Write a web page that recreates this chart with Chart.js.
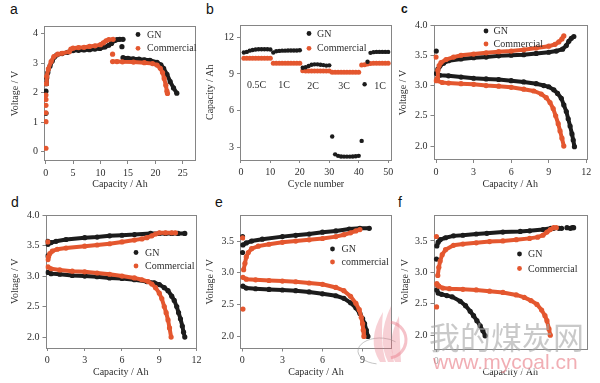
<!DOCTYPE html>
<html><head><meta charset="utf-8">
<script src="https://cdn.jsdelivr.net/npm/chart.js@4.4.0/dist/chart.umd.min.js"></script>
<style>
body{margin:0;background:#fff;}
#wrap{position:relative;width:600px;height:383px;overflow:hidden;background:#fff;}
#wrap canvas{position:absolute;}
.lab{position:absolute;font-family:"Liberation Sans",Arial,sans-serif;font-size:14px;line-height:14px;color:#111;}
</style></head><body><div id="wrap">
<div class="lab" style="left:10px;top:2px">a</div>
<div class="lab" style="left:206px;top:2px">b</div>
<div class="lab" style="left:401px;top:2px;font-weight:bold;font-size:12px">c</div>
<div class="lab" style="left:11px;top:195px">d</div>
<div class="lab" style="left:215px;top:195px">e</div>
<div class="lab" style="left:398px;top:195px">f</div>
</div>
<script>
// ---------- data ----------
// panel a
const a_GN_charge=[[0.1,2.3],[0.2,2.5],[0.4,2.68],[0.8,2.9],[1.2,3.07],[1.6,3.2],[2.0,3.27],[3,3.32],[4,3.36],[5,3.42],[6,3.43],[7,3.44],[8,3.45],[9,3.47],[9.9,3.49],[10.8,3.54],[11.5,3.6],[12,3.66],[12.6,3.76],[13,3.79],[13.5,3.8],[14.1,3.8]];
const a_GN_discharge=[[14.1,3.18],[15,3.16],[16,3.14],[17,3.13],[18,3.11],[19,3.09],[20.3,3.02],[21,2.94],[21.5,2.82],[22.1,2.62],[22.7,2.37],[23.3,2.16],[23.9,1.98]];
const a_GN_points=[[0.05,1.3],[0.05,2.05],[13.9,3.55]];
const a_Com_charge=[[0.1,2.3],[0.2,2.55],[0.5,2.8],[1.0,3.05],[1.5,3.22],[2.2,3.3],[3,3.33],[4.3,3.38],[4.6,3.47],[5,3.5],[6,3.52],[7,3.53],[8,3.56],[9,3.58],[10,3.62],[10.5,3.68],[11,3.75],[11.5,3.79],[12.3,3.8]];
const a_Com_discharge=[[12.2,3.05],[13,3.05],[14,3.04],[16,3.03],[18,3.01],[19.5,2.98],[20.3,2.93],[20.9,2.82],[21.3,2.68],[21.6,2.48],[21.9,2.25],[22.1,2.05],[22.2,1.97]];
const a_Com_points=[[0.05,0.12],[0.05,1.02],[0.05,1.32],[0.05,1.57],[0.05,1.77],[0.05,1.92],[12.2,3.3]];
// panel b
const b_cycles=[1,2,3,4,5,6,7,8,9,10,11,12,13,14,15,16,17,18,19,20,21,22,23,24,25,26,27,28,29,30,31,32,33,34,35,36,37,38,39,40,41,42,43,44,45,46,47,48,49,50];
const b_GN=[10.75,10.8,10.9,10.95,11.0,11.02,11.02,11.02,11.02,11.0,10.75,10.85,10.88,10.9,10.9,10.92,10.92,10.92,10.92,10.93,9.5,9.55,9.65,9.75,9.78,9.78,9.75,9.72,9.68,9.7,3.88,2.42,2.3,2.25,2.24,2.24,2.24,2.25,2.27,2.3,3.52,8.15,10.0,10.72,10.78,10.8,10.8,10.8,10.8,10.8];
const b_Com=[10.28,10.28,10.28,10.28,10.28,10.28,10.28,10.28,10.28,10.28,9.87,9.87,9.87,9.87,9.87,9.87,9.87,9.87,9.87,9.87,9.26,9.24,9.24,9.24,9.24,9.24,9.24,9.24,9.24,9.24,9.14,9.14,9.14,9.14,9.14,9.14,9.14,9.14,9.14,9.14,9.73,9.75,9.8,9.85,9.87,9.87,9.87,9.87,9.87,9.87];
const b_rates=['0.5C','1C','2C','3C','1C'];
// panel c
const c_GN_charge=[[0.05,3.2],[0.15,3.27],[0.3,3.32],[0.6,3.37],[1,3.41],[2,3.44],[3,3.46],[4,3.47],[5,3.49],[6,3.5],[7,3.51],[8,3.53],[9,3.55],[9.6,3.57],[10.1,3.6],[10.4,3.66],[10.6,3.73],[10.8,3.78],[11.0,3.81]];
const c_GN_discharge=[[0.05,3.2],[0.3,3.17],[1,3.16],[2,3.14],[3,3.12],[4,3.11],[5,3.1],[6,3.08],[7,3.06],[8,3.03],[8.6,3.0],[9,2.98],[9.4,2.93],[9.7,2.87],[10,2.79],[10.2,2.68],[10.4,2.57],[10.55,2.45],[10.7,2.33],[10.85,2.2],[10.95,2.1],[11.05,1.99]];
const c_GN_points=[[0.02,3.57]];
const c_Com_charge=[[0.1,3.12],[0.15,3.25],[0.25,3.33],[0.4,3.38],[0.8,3.43],[1.4,3.47],[2,3.5],[3,3.52],[4,3.54],[5,3.56],[6,3.57],[7,3.59],[8,3.62],[9,3.65],[9.5,3.68],[9.8,3.72],[10.05,3.77],[10.2,3.82]];
const c_Com_discharge=[[0.02,3.08],[0.5,3.05],[1,3.04],[2,3.03],[3,3.02],[4,3.0],[5,2.99],[6,2.97],[7,2.94],[7.8,2.91],[8.4,2.86],[8.8,2.8],[9.1,2.72],[9.35,2.62],[9.55,2.5],[9.75,2.37],[9.9,2.25],[10.05,2.13],[10.2,2.0]];
const c_Com_points=[[0.0,3.47]];
// panel d
const d_GN_charge=[[0.05,3.52],[0.3,3.55],[0.7,3.57],[1.5,3.6],[3,3.63],[4,3.64],[5,3.66],[6,3.67],[7,3.68],[8.3,3.7],[9,3.7],[9.5,3.7],[10,3.7],[10.5,3.7],[11.05,3.7]];
const d_GN_discharge=[[0.05,3.06],[0.3,3.04],[1,3.03],[2,3.01],[3,3.0],[4,2.99],[5,2.97],[6,2.96],[7,2.94],[8,2.91],[8.6,2.89],[9,2.86],[9.4,2.81],[9.7,2.76],[10,2.67],[10.2,2.6],[10.4,2.5],[10.55,2.4],[10.7,2.3],[10.85,2.18],[10.95,2.08],[11.05,2.0]];
const d_GN_points=[[0.03,3.33],[0.03,3.57]];
const d_Com_charge=[[0.05,3.27],[0.1,3.32],[0.2,3.37],[0.4,3.41],[0.8,3.44],[1.5,3.46],[3,3.49],[4,3.51],[5,3.53],[6,3.56],[7,3.59],[7.6,3.61],[8,3.63],[8.4,3.66],[8.7,3.69],[9,3.71],[9.5,3.71],[10,3.71],[10.3,3.71]];
const d_Com_discharge=[[0.05,3.15],[0.3,3.12],[1,3.1],[2,3.08],[3,3.07],[4,3.05],[5,3.03],[6,3.0],[7,2.97],[7.6,2.94],[8.1,2.91],[8.4,2.87],[8.7,2.81],[9.0,2.72],[9.2,2.63],[9.4,2.5],[9.55,2.4],[9.7,2.28],[9.82,2.15],[9.95,2.0]];
const d_Com_points=[[0.03,3.56]];
// panel e
const e_GN_charge=[[0.05,3.44],[0.3,3.47],[0.7,3.5],[1.5,3.53],[3,3.57],[4,3.59],[5,3.61],[6,3.64],[7,3.66],[8,3.69],[8.8,3.7],[9.5,3.7]];
const e_GN_discharge=[[0.05,2.79],[0.3,2.76],[1,2.75],[2,2.74],[3,2.73],[4,2.72],[5,2.7],[6,2.67],[7,2.64],[7.6,2.6],[8.1,2.53],[8.5,2.45],[8.8,2.36],[9.0,2.28],[9.15,2.2],[9.28,2.1],[9.4,2.0]];
const e_GN_points=[[0.02,3.57],[0.02,3.32]];
const e_Com_charge=[[0.1,3.05],[0.2,3.15],[0.3,3.25],[0.45,3.32],[0.7,3.38],[1.2,3.42],[2,3.45],[3,3.48],[4,3.5],[5,3.52],[6,3.54],[7,3.57],[7.6,3.6],[8.1,3.63],[8.5,3.66],[8.8,3.68]];
const e_Com_discharge=[[0.05,2.93],[0.3,2.9],[1,2.89],[2,2.88],[3,2.87],[4,2.86],[5,2.84],[6,2.82],[7,2.77],[7.6,2.72],[8.1,2.63],[8.5,2.52],[8.75,2.42],[8.9,2.3],[9.0,2.2],[9.05,2.1],[9.1,2.0]];
const e_Com_points=[[0.02,3.55],[0.05,2.43]];
// panel f
const f_GN_charge=[[0.05,3.42],[0.15,3.48],[0.3,3.52],[0.7,3.55],[1.3,3.58],[2,3.59],[3,3.61],[3.8,3.62],[5,3.64],[6.3,3.65],[7,3.66],[8,3.68],[8.6,3.7]];
const f_GN_points=[[0.02,3.21],[8.8,3.7],[9.2,3.7],[9.4,3.7],[9.8,3.71],[10.05,3.7],[10.2,3.71],[10.3,3.71]];
const f_GN_discharge=[[0.05,2.72],[0.15,2.67],[0.4,2.65],[0.8,2.63],[1.2,2.61],[1.8,2.54],[2.2,2.47],[2.55,2.38],[2.8,2.31],[3.05,2.23],[3.3,2.15],[3.5,2.07],[3.67,1.99]];
const f_Com_charge=[[0.12,2.95],[0.2,3.08],[0.3,3.18],[0.45,3.28],[0.7,3.36],[1.3,3.43],[2,3.45],[3,3.47],[4,3.49],[5,3.5],[6,3.52],[7,3.54],[7.6,3.56],[8.0,3.59],[8.3,3.64],[8.55,3.68],[8.8,3.71],[9.0,3.71]];
const f_Com_discharge=[[0.05,2.82],[0.2,2.78],[0.5,2.75],[1,2.74],[2,2.73],[3,2.72],[4,2.7],[5,2.68],[6,2.64],[6.6,2.6],[7.1,2.55],[7.55,2.49],[7.9,2.4],[8.15,2.31],[8.3,2.23],[8.45,2.1],[8.55,2.0]];
const f_Com_points=[[0.02,3.57],[0.03,2.45],[0.08,2.8]];

// ---------- drawing ----------
const GN_C='#1c1c1c', COM_C='#e4572f', AXIS_C='#858585', TXT_C='#2e2e2e';
const SERIF='"Liberation Serif","Times New Roman",serif';
const wrap=document.getElementById('wrap');

function ds(pairs,color,line,order){
  return {data:pairs.map(p=>({x:p[0],y:p[1]})),showLine:line,borderColor:color,backgroundColor:color,
    borderWidth:line?4:0,tension:0,pointRadius:2.6,pointBorderWidth:0,pointHoverRadius:0,pointBackgroundColor:color,order:order};
}
function curves(gnLines,gnPts,comLines,comPts){
  const out=[];
  comLines.forEach(l=>out.push(ds(l,COM_C,true,0)));
  out.push(ds(comPts,COM_C,false,0));
  gnLines.forEach(l=>out.push(ds(l,GN_C,true,1)));
  out.push(ds(gnPts,GN_C,false,1));
  return out;
}

function panel(o){
  const [bx,by,bw,bh]=o.box, [L,T,R,B]=o.plot;
  const cv=document.createElement('canvas');
  cv.width=bw; cv.height=bh;
  cv.style.left=bx+'px'; cv.style.top=by+'px'; cv.style.width=bw+'px'; cv.style.height=bh+'px';
  wrap.appendChild(cv);
  const deco={id:'deco',
    beforeDatasetsDraw(chart){
      const {ctx,chartArea:a}=chart;
      ctx.save(); ctx.strokeStyle=AXIS_C; ctx.lineWidth=1;
      ctx.strokeRect(Math.round(a.left)+0.5,Math.round(a.top)+0.5,Math.round(a.right-a.left)-1,Math.round(a.bottom-a.top)-1);
      ctx.restore();
    },
    afterDraw(chart){
      const ctx=chart.ctx; ctx.save();
      ctx.font='10px '+SERIF; ctx.textBaseline='middle'; ctx.fillStyle=TXT_C;
      (o.legend||[]).forEach(it=>{
        ctx.beginPath(); ctx.fillStyle=it.c; ctx.arc(it.dx-bx,it.dy-by,2.4,0,Math.PI*2); ctx.fill();
        ctx.fillStyle=TXT_C; ctx.textAlign='left'; ctx.fillText(it.text,it.tx-bx,it.dy-by+0.5);
      });
      (o.notes||[]).forEach(n=>{ctx.textAlign='center'; ctx.fillStyle=TXT_C; ctx.fillText(n.text,n.x-bx,n.y-by);});
      ctx.restore();
    }};
  const tickFont={family:SERIF,size:10};
  new Chart(cv,{type:'scatter',data:{datasets:o.datasets},
    options:{responsive:false,animation:false,devicePixelRatio:1,events:[],
      layout:{padding:{top:T-by,right:bx+bw-R,left:0,bottom:0}},
      plugins:{legend:{display:false},tooltip:{enabled:false}},
      scales:{
        x:{type:'linear',position:'bottom',min:o.x.min,max:o.x.max,
          afterBuildTicks:s=>{s.ticks=o.x.ticks.map(v=>({value:v}));},
          afterFit:s=>{s.height=by+bh-B; s.paddingLeft=0; s.paddingRight=0;},
          grid:{display:true,drawOnChartArea:false,drawTicks:true,tickLength:3,color:AXIS_C},
          border:{display:false},
          ticks:{font:tickFont,color:TXT_C,padding:3,maxRotation:0,autoSkip:false,callback:v=>v.toFixed(o.x.dec||0)},
          title:{display:true,text:o.x.title,font:{family:SERIF,size:10},color:TXT_C,padding:0}},
        y:{type:'linear',position:'left',min:o.y.min,max:o.y.max,
          afterBuildTicks:s=>{s.ticks=o.y.ticks.map(v=>({value:v}));},
          afterFit:s=>{s.width=L-bx; s.paddingTop=0; s.paddingBottom=0;},
          grid:{display:true,drawOnChartArea:false,drawTicks:true,tickLength:3,color:AXIS_C},
          border:{display:false},
          ticks:{font:tickFont,color:TXT_C,padding:3,autoSkip:false,callback:v=>v.toFixed(o.y.dec||0)},
          title:{display:true,text:o.y.title,font:{family:SERIF,size:10},color:TXT_C,padding:{top:o.y.tpad,bottom:0}}}
      }},
    plugins:[deco]});
}

panel({box:[0,0,205,190],plot:[44,26,196,161],
  x:{min:-0.3,max:27.4,ticks:[0,5,10,15,20,25],title:'Capacity / Ah'},
  y:{min:-0.31,max:4.25,ticks:[0,1,2,3,4],title:'Voltage / V',tpad:9},
  datasets:curves([a_GN_charge,a_GN_discharge],a_GN_points,[a_Com_charge,a_Com_discharge],a_Com_points),
  legend:[{dx:138,dy:34.5,tx:147,text:'GN',c:GN_C},{dx:138,dy:48.3,tx:147,text:'Commercial',c:COM_C}]});

panel({box:[198,0,204,190],plot:[240,24.5,392,160],
  x:{min:-0.3,max:51.3,ticks:[0,10,20,30,40,50],title:'Cycle number'},
  y:{min:1.96,max:13.04,ticks:[3,6,9,12],title:'Capacity / Ah',tpad:6},
  datasets:[
    {data:b_cycles.map((c,i)=>({x:c,y:b_Com[i]})),showLine:false,pointRadius:2.5,pointBorderWidth:0,backgroundColor:COM_C,pointBackgroundColor:COM_C,order:1},
    {data:b_cycles.map((c,i)=>({x:c,y:b_GN[i]})),showLine:false,pointRadius:2.2,pointBorderWidth:0,backgroundColor:GN_C,pointBackgroundColor:GN_C,order:0}],
  legend:[{dx:309,dy:33.5,tx:317,text:'GN',c:GN_C},{dx:309,dy:48.3,tx:317,text:'Commercial',c:COM_C}],
  notes:[{text:b_rates[0],x:256.5,y:85.5},{text:b_rates[1],x:284,y:85.5},{text:b_rates[2],x:313,y:86.5},{text:b_rates[3],x:344,y:86.5},{text:b_rates[4],x:380,y:86.5}]});

panel({box:[396,0,204,190],plot:[433.5,25,587,160],
  x:{min:-0.2,max:12.05,ticks:[0,3,6,9,12],title:'Capacity / Ah'},
  y:{min:1.77,max:4.0,ticks:[2,2.5,3,3.5,4],dec:1,title:'Voltage / V',tpad:1},
  datasets:curves([c_GN_charge,c_GN_discharge],c_GN_points,[c_Com_charge,c_Com_discharge],c_Com_points),
  legend:[{dx:486,dy:31,tx:493.5,text:'GN',c:GN_C},{dx:486,dy:44,tx:493.5,text:'Commercial',c:COM_C}]});

panel({box:[0,192,208,186],plot:[45.5,214.5,196,348],
  x:{min:-0.15,max:11.95,ticks:[0,3,6,9,12],title:'Capacity / Ah'},
  y:{min:1.82,max:4.01,ticks:[2,2.5,3,3.5,4],dec:1,title:'Voltage / V',tpad:9},
  datasets:curves([d_GN_charge,d_GN_discharge],d_GN_points,[d_Com_charge,d_Com_discharge],d_Com_points),
  legend:[{dx:136,dy:252.5,tx:145,text:'GN',c:GN_C},{dx:136,dy:266,tx:145,text:'Commercial',c:COM_C}]});

panel({box:[198,192,204,186],plot:[240,215,392,348.5],
  x:{min:-0.17,max:11.2,ticks:[0,3,6,9],title:'Capacity / Ah'},
  y:{min:1.81,max:3.91,ticks:[2,2.5,3,3.5],dec:1,title:'Voltage / V',tpad:6},
  datasets:curves([e_GN_charge,e_GN_discharge],e_GN_points,[e_Com_charge,e_Com_discharge],e_Com_points),
  legend:[{dx:332.5,dy:249,tx:341.5,text:'GN',c:GN_C},{dx:332.5,dy:262,tx:341.5,text:'commercial',c:COM_C}]});

panel({box:[396,192,204,186],plot:[433.5,214.5,587,349],
  x:{min:-0.2,max:11.3,ticks:[0],title:'Capacity / Ah'},
  y:{min:1.78,max:3.92,ticks:[2,2.5,3,3.5],dec:1,title:'Voltage / V',tpad:3},
  datasets:curves([f_GN_charge,f_GN_discharge],f_GN_points,[f_Com_charge,f_Com_discharge],f_Com_points),
  legend:[{dx:519.5,dy:254,tx:528,text:'GN',c:GN_C},{dx:519.5,dy:268.5,tx:528,text:'Commercial',c:COM_C}]});

// watermark overlay (present in the reference image)
const wm=document.createElement('canvas');
wm.width=600; wm.height=383; wm.style.left='0px'; wm.style.top='0px'; wm.style.width='600px'; wm.style.height='383px';
wrap.appendChild(wm);
const w=wm.getContext('2d');
// flame logo in panel e
w.save();
w.strokeStyle='rgba(150,150,150,0.55)'; w.lineWidth=1;
w.beginPath(); w.ellipse(380,351,22,13,0,Math.PI*0.55,Math.PI*1.75); w.stroke();
w.fillStyle='rgba(232,120,135,0.35)';
[[383,312,372,340,380,362],[391,306,382,338,388,362],[399,316,392,342,395,362]].forEach(f=>{
  w.beginPath(); w.moveTo(f[4],f[5]);
  w.quadraticCurveTo(f[2]-6,f[3],f[0],f[1]);
  w.quadraticCurveTo(f[2]+8,f[3]+4,f[4]+6,f[5]);
  w.closePath(); w.fill();
});
// partial ring logo next to the Chinese text
w.strokeStyle='rgba(232,120,135,0.45)'; w.lineWidth=3;
w.beginPath(); w.arc(388,340,18,-Math.PI*0.45,Math.PI*0.45); w.stroke();
w.restore();
w.fillStyle='rgba(255,255,255,0.55)'; w.fillRect(428,352,156,19);
w.font='31px "Noto Sans CJK SC"'; w.textBaseline='middle'; w.textAlign='left';
w.fillStyle='rgba(165,165,165,0.6)'; w.fillText('我的煤炭网',429,337);
w.font='21px "Liberation Sans",Arial,sans-serif'; w.textBaseline='alphabetic';
w.fillStyle='rgba(232,120,130,0.6)'; w.fillText('www.mycoal.cn',433,369);
</script>
</body></html>
